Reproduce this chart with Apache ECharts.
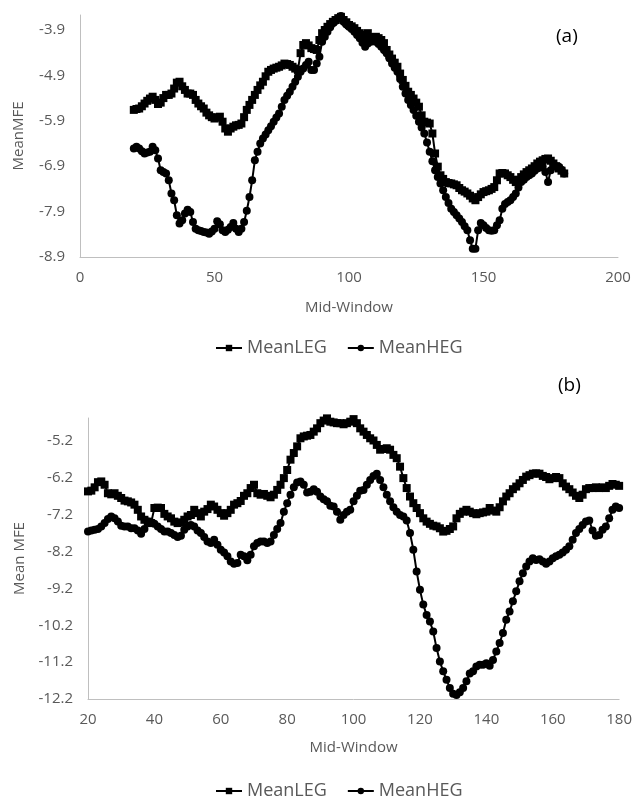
<!DOCTYPE html>
<html>
<head>
<meta charset="utf-8">
<script src="https://cdn.jsdelivr.net/npm/echarts@6/dist/echarts.min.js"></script>
<style>
  html, body { margin: 0; padding: 0; background: #fff; }
  #chart { width: 635px; height: 796px; }
</style>
</head>
<body>
<div id="chart"></div>
<script>
// mid-window positions, one point per window
const midWindow = Array.from({ length: 161 }, (_, i) => 20 + i);

// panel (a)
const legA = [
  -5.66,-5.64,-5.63,-5.58,-5.52,-5.46,-5.41,-5.37,-5.44,-5.53,
  -5.50,-5.40,-5.33,-5.33,-5.30,-5.19,-5.06,-5.04,-5.14,-5.22,
  -5.30,-5.30,-5.33,-5.44,-5.52,-5.58,-5.63,-5.72,-5.78,-5.82,
  -5.85,-5.83,-5.81,-5.92,-6.07,-6.14,-6.07,-6.03,-6.00,-5.99,
  -5.96,-5.82,-5.66,-5.55,-5.44,-5.33,-5.22,-5.12,-5.04,-4.92,
  -4.82,-4.78,-4.75,-4.73,-4.71,-4.68,-4.64,-4.65,-4.67,-4.71,
  -4.75,-4.78,-4.41,-4.23,-4.19,-4.24,-4.30,-4.32,-4.34,-4.12,
  -3.97,-3.90,-3.83,-3.77,-3.72,-3.68,-3.64,-3.61,-3.68,-3.73,
  -3.79,-3.82,-3.86,-3.92,-3.97,-4.01,-4.05,-3.97,-4.06,-4.06,
  -4.05,-4.08,-4.12,-4.19,-4.34,-4.44,-4.53,-4.62,-4.71,-4.86,
  -5.00,-5.13,-5.26,-5.33,-5.41,-5.50,-5.59,-5.78,-5.92,-5.94,
  -5.96,-6.18,-6.62,-6.91,-7.10,-7.18,-7.25,-7.27,-7.28,-7.30,
  -7.32,-7.38,-7.43,-7.46,-7.50,-7.55,-7.61,-7.65,-7.58,-7.52,
  -7.47,-7.45,-7.43,-7.40,-7.36,-7.21,-7.06,-7.05,-7.06,-7.10,
  -7.14,-7.20,-7.25,-7.20,-7.14,-7.08,-7.03,-6.99,-6.95,-6.90,
  -6.84,-6.80,-6.77,-6.74,-6.73,-6.78,-6.84,-6.90,-6.95,-7.00,
  -7.06
];
const hegA = [
  -6.51,-6.47,-6.51,-6.57,-6.62,-6.60,-6.58,-6.47,-6.55,-6.73,
  -6.99,-7.03,-7.06,-7.21,-7.50,-7.65,-7.98,-8.16,-8.09,-7.94,
  -7.86,-7.91,-8.13,-8.28,-8.31,-8.33,-8.35,-8.36,-8.39,-8.34,
  -8.28,-8.11,-8.18,-8.31,-8.35,-8.30,-8.24,-8.15,-8.28,-8.35,
  -8.28,-8.13,-7.88,-7.58,-7.21,-6.77,-6.58,-6.40,-6.29,-6.20,
  -6.11,-6.02,-5.92,-5.83,-5.74,-5.59,-5.44,-5.35,-5.26,-5.15,
  -5.04,-4.93,-4.82,-4.75,-4.67,-4.60,-4.78,-4.78,-4.64,-4.49,
  -4.16,-4.05,-3.94,-3.84,-3.75,-3.70,-3.64,-3.59,-3.72,-3.78,
  -3.83,-3.88,-3.94,-4.01,-4.08,-4.18,-4.27,-4.20,-4.16,-4.15,
  -4.16,-4.21,-4.27,-4.34,-4.41,-4.52,-4.64,-4.73,-4.82,-4.98,
  -5.15,-5.30,-5.44,-5.55,-5.66,-5.79,-5.92,-6.05,-6.18,-6.38,
  -6.58,-6.79,-6.99,-7.14,-7.28,-7.43,-7.58,-7.71,-7.84,-7.91,
  -7.98,-8.05,-8.13,-8.22,-8.31,-8.53,-8.72,-8.72,-8.31,-8.15,
  -8.20,-8.26,-8.31,-8.32,-8.31,-8.20,-8.09,-7.84,-7.73,-7.69,
  -7.65,-7.58,-7.50,-7.37,-7.25,-7.20,-7.14,-7.10,-7.06,-7.00,
  -6.95,-6.93,-6.91,-7.03,-7.25,-6.99,-6.88,-6.90,-6.91,-6.98,
  -7.06
];

// panel (b)
const legB = [
  -6.57,-6.55,-6.46,-6.32,-6.30,-6.39,-6.62,-6.65,-6.62,-6.69,
  -6.75,-6.82,-6.84,-6.87,-6.93,-7.07,-7.25,-7.34,-7.39,-7.43,
  -7.02,-7.01,-7.02,-7.18,-7.25,-7.30,-7.39,-7.43,-7.41,-7.34,
  -7.25,-7.21,-7.07,-7.16,-7.25,-7.12,-7.05,-6.93,-6.98,-7.07,
  -7.16,-7.23,-7.16,-7.07,-6.93,-6.89,-6.83,-6.69,-6.62,-6.48,
  -6.39,-6.62,-6.66,-6.64,-6.69,-6.73,-6.66,-6.53,-6.39,-6.21,
  -5.99,-5.71,-5.53,-5.35,-5.13,-5.08,-5.06,-5.04,-4.95,-4.86,
  -4.72,-4.65,-4.59,-4.68,-4.70,-4.72,-4.72,-4.75,-4.72,-4.68,
  -4.61,-4.72,-4.86,-4.95,-5.04,-5.13,-5.19,-5.31,-5.44,-5.42,
  -5.40,-5.44,-5.58,-5.67,-5.90,-6.21,-6.48,-6.71,-6.89,-7.02,
  -7.16,-7.30,-7.39,-7.45,-7.50,-7.52,-7.57,-7.66,-7.64,-7.59,
  -7.52,-7.30,-7.18,-7.12,-7.07,-7.12,-7.16,-7.19,-7.16,-7.14,
  -7.12,-7.02,-7.09,-7.12,-7.00,-6.84,-6.71,-6.62,-6.51,-6.44,
  -6.35,-6.26,-6.17,-6.13,-6.09,-6.08,-6.09,-6.15,-6.18,-6.24,
  -6.21,-6.18,-6.21,-6.35,-6.44,-6.51,-6.60,-6.69,-6.75,-6.66,
  -6.51,-6.48,-6.48,-6.46,-6.48,-6.46,-6.48,-6.42,-6.37,-6.39,
  -6.42
];
const hegB = [
  -7.66,-7.63,-7.61,-7.59,-7.52,-7.43,-7.32,-7.25,-7.30,-7.39,
  -7.50,-7.52,-7.52,-7.57,-7.57,-7.63,-7.72,-7.59,-7.39,-7.41,
  -7.45,-7.52,-7.59,-7.66,-7.66,-7.70,-7.75,-7.81,-7.77,-7.61,
  -7.52,-7.48,-7.52,-7.63,-7.70,-7.81,-7.93,-7.97,-7.88,-8.02,
  -8.15,-8.23,-8.33,-8.47,-8.53,-8.51,-8.29,-8.33,-8.44,-8.29,
  -8.06,-7.97,-7.93,-7.93,-7.97,-7.93,-7.75,-7.59,-7.43,-7.12,
  -6.89,-6.66,-6.46,-6.33,-6.30,-6.39,-6.60,-6.58,-6.51,-6.58,
  -6.71,-6.78,-6.84,-6.96,-6.98,-7.12,-7.34,-7.21,-7.12,-7.07,
  -6.84,-6.69,-6.55,-6.53,-6.39,-6.26,-6.15,-6.09,-6.26,-6.46,
  -6.66,-6.84,-7.00,-7.12,-7.21,-7.25,-7.36,-7.70,-8.15,-8.74,
  -9.24,-9.64,-9.92,-10.10,-10.37,-10.82,-11.18,-11.45,-11.68,-11.90,
  -12.06,-12.09,-12.02,-11.90,-11.72,-11.51,-11.45,-11.32,-11.27,-11.27,
  -11.23,-11.30,-11.14,-10.91,-10.68,-10.41,-10.05,-9.83,-9.55,-9.28,
  -9.01,-8.79,-8.61,-8.47,-8.38,-8.43,-8.41,-8.47,-8.53,-8.47,
  -8.38,-8.33,-8.29,-8.23,-8.15,-8.06,-7.88,-7.70,-7.59,-7.48,
  -7.39,-7.36,-7.63,-7.77,-7.75,-7.61,-7.52,-7.30,-7.07,-6.98,
  -7.02
];

const FONT = '"Open Sans", "Noto Sans", sans-serif';
const GREY = '#595959';

function pairs(vals) {
  return midWindow.map((x, i) => [x, vals[i]]);
}

function lineSeries(name, symbol, vals, idx) {
  return {
    name: name,
    type: 'line',
    xAxisIndex: idx,
    yAxisIndex: idx,
    symbol: symbol,
    symbolSize: 8,
    showAllSymbol: true,
    data: pairs(vals),
    lineStyle: { color: '#000', width: 2 },
    itemStyle: { color: '#000' }
  };
}

function xAxisCfg(idx, min, max, interval, gap) {
  return {
    type: 'value', gridIndex: idx, min: min, max: max, interval: interval,
    name: 'Mid-Window', nameLocation: 'middle', nameGap: gap,
    nameTextStyle: { color: GREY, fontSize: 15, fontFamily: FONT },
    axisLine: { lineStyle: { color: '#bfbfbf' } },
    axisTick: { show: false },
    splitLine: { show: false },
    axisLabel: { color: GREY, fontSize: 15, fontFamily: FONT, margin: 13 }
  };
}

function yAxisCfg(idx, name, min, max) {
  return {
    type: 'value', gridIndex: idx, min: min, max: max, interval: 1,
    name: name, nameLocation: 'middle', nameGap: 54,
    nameTextStyle: { color: GREY, fontSize: 15, fontFamily: FONT },
    axisLine: { show: true, lineStyle: { color: '#bfbfbf' } },
    axisTick: { show: false },
    splitLine: { show: false },
    axisLabel: {
      color: GREY, fontSize: 15, fontFamily: FONT, margin: 15,
      showMaxLabel: false,
      formatter: v => v.toFixed(1)
    }
  };
}

const legendStyle = {
  left: 210,
  itemWidth: 26, itemHeight: 8, itemGap: 20,
  textStyle: { color: GREY, fontSize: 18, fontFamily: FONT },
  data: ['MeanLEG', 'MeanHEG']
};

const chart = echarts.init(document.getElementById('chart'));
chart.setOption({
  animation: false,
  backgroundColor: '#fff',
  grid: [
    { left: 80, right: 17, top: 15, height: 242 },
    { left: 88, right: 13, top: 418, height: 281 }
  ],
  xAxis: [
    xAxisCfg(0, 0, 200, 50, 43),
    xAxisCfg(1, 20, 180, 20, 41)
  ],
  yAxis: [
    yAxisCfg(0, 'MeanMFE', -8.9, -3.57),
    yAxisCfg(1, 'Mean MFE', -12.2, -4.58)
  ],
  legend: [
    Object.assign({ top: 334 }, legendStyle),
    Object.assign({ top: 777 }, legendStyle)
  ],
  graphic: [
    { type: 'text', left: 556, top: 27, style: { text: '(a)', fill: '#000', fontSize: 19, fontFamily: FONT } },
    { type: 'text', left: 558, top: 376, style: { text: '(b)', fill: '#000', fontSize: 19, fontFamily: FONT } }
  ],
  series: [
    lineSeries('MeanLEG', 'rect', legA, 0),
    lineSeries('MeanHEG', 'circle', hegA, 0),
    lineSeries('MeanLEG', 'rect', legB, 1),
    lineSeries('MeanHEG', 'circle', hegB, 1)
  ]
});
</script>
</body>
</html>
